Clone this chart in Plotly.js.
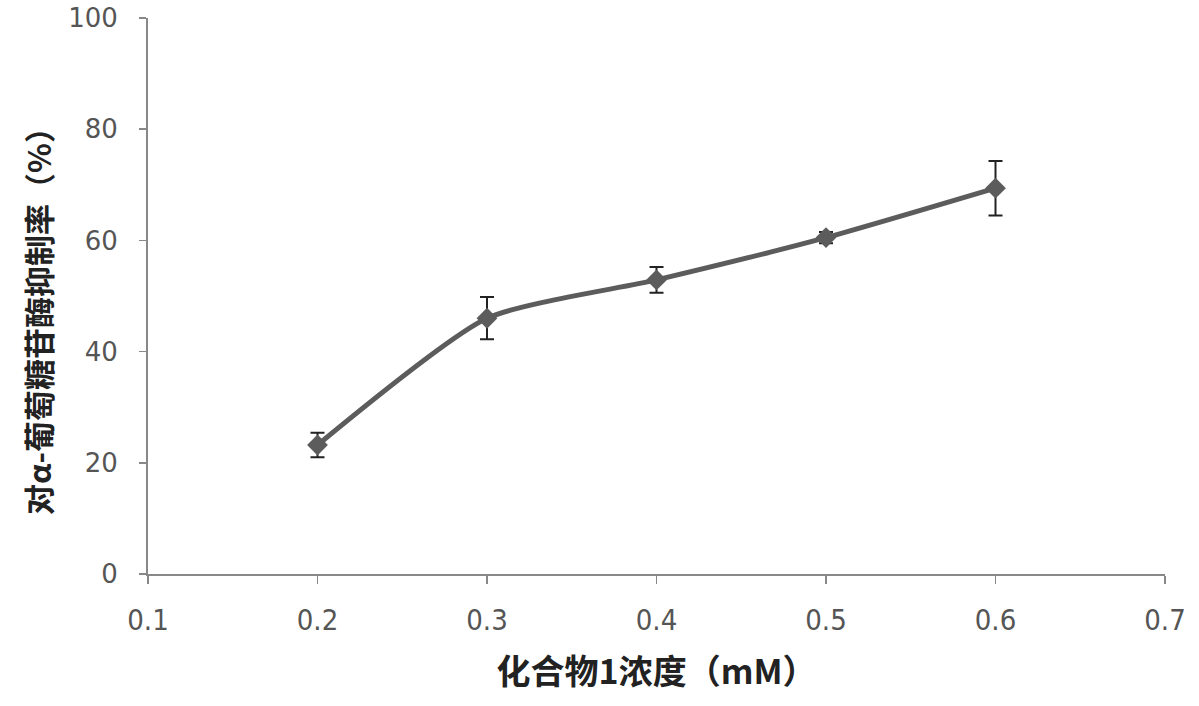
<!DOCTYPE html>
<html><head><meta charset="utf-8">
<script src="https://cdn.plot.ly/plotly-3.0.1.min.js"></script>
<style>html,body{margin:0;padding:0;background:#fff}#c{width:1199px;height:706px}</style>
</head><body><div id="c"></div>
<script>
const concentration = [0.2, 0.3, 0.4, 0.5, 0.6];
const inhibition = [23.2, 46.0, 52.9, 60.5, 69.4];
const errorValues = [2.2, 3.8, 2.3, 1.0, 4.9];
const xTicks = [0.1, 0.2, 0.3, 0.4, 0.5, 0.6, 0.7];
const yTicks = [0, 20, 40, 60, 80, 100];
const xTitle = '化合物1浓度（mM）';
const yTitle = '对α-葡萄糖苷酶抑制率（%）';

const trace = {
  x: concentration, y: inhibition, type: 'scatter', mode: 'lines+markers',
  line: {color: '#5c5c5c', width: 5, shape: 'spline', smoothing: 0.6},
  marker: {symbol: 'diamond', size: 16, color: '#5c5c5c'},
  error_y: {type: 'data', array: errorValues, visible: true, color: '#222', thickness: 2, width: 7},
  showlegend: false
};
const layout = {
  width: 1199, height: 706,
  margin: {l: 148, r: 34, t: 18, b: 132},
  paper_bgcolor: '#fff', plot_bgcolor: '#fff',
  font: {family: 'DejaVu Sans, sans-serif', color: '#555'},
  xaxis: {
    range: [0.1, 0.7], tickvals: xTicks, ticktext: xTicks.map(v => v.toFixed(1)),
    showgrid: false, zeroline: false, showline: true, linecolor: '#888', linewidth: 2,
    ticks: 'outside', ticklen: 8, tickcolor: '#888', tickwidth: 1.5,
    ticklabelstandoff: 11,
    tickfont: {family: 'DejaVu Sans Condensed, Liberation Sans Narrow, sans-serif', size: 29, color: '#555'},
    title: {text: xTitle, font: {family: 'Noto Sans CJK SC, sans-serif', size: 34, color: '#222', weight: 'bold'}, standoff: 24}
  },
  yaxis: {
    range: [0, 100], tickvals: yTicks,
    showgrid: false, zeroline: false, showline: true, linecolor: '#888', linewidth: 2,
    ticks: 'outside', ticklen: 7, tickcolor: '#888', tickwidth: 1.5,
    ticklabelstandoff: 16,
    tickfont: {family: 'DejaVu Sans, sans-serif', size: 26, color: '#555'}
  },
  annotations: [{
    text: yTitle, xref: 'paper', yref: 'paper', x: -0.108, y: 0.468,
    xanchor: 'center', yanchor: 'middle', textangle: -90, showarrow: false,
    font: {family: 'Noto Sans CJK SC, sans-serif', size: 31, color: '#222', weight: 'bold'}
  }]
};
Plotly.newPlot('c', [trace], layout, {displayModeBar: false, staticPlot: true});
</script></body></html>
